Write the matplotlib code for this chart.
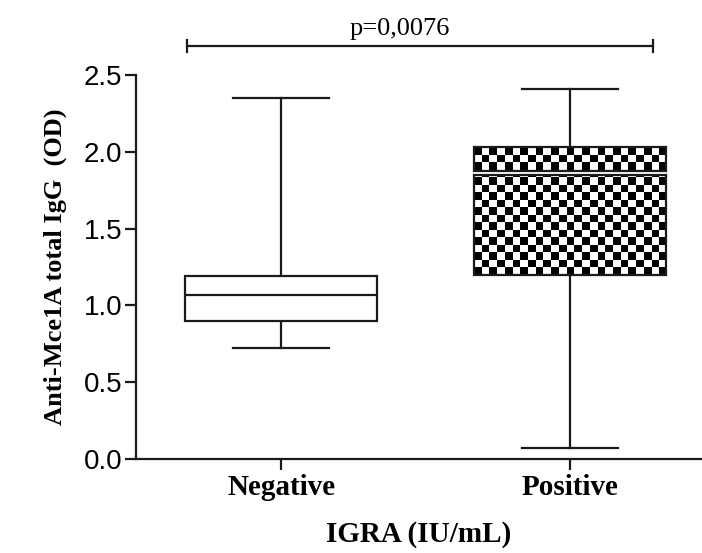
import numpy as np
import matplotlib
matplotlib.use("Agg")
import matplotlib.pyplot as plt

# datos (OD)
grupos = ["Negative", "Positive"]
q1 = [0.90, 1.20]
medianas = [1.07, 1.86]
q3 = [1.19, 2.03]
bigote_inf = [0.72, 0.07]
bigote_sup = [2.35, 2.41]
p_valor = "p=0,0076"

yticks = [0.0, 0.5, 1.0, 1.5, 2.0, 2.5]

fig = plt.figure(figsize=(7.02, 5.53), dpi=100)
ax = fig.add_axes([0.194, 0.170, 0.806, 0.694])

stats = []
for i, g in enumerate(grupos):
    stats.append({"label": g, "q1": q1[i], "med": medianas[i], "q3": q3[i],
                  "whislo": bigote_inf[i], "whishi": bigote_sup[i], "fliers": []})

pos = [1, 2]
ancho = 0.665
lw = 1.6
bp = ax.bxp(stats, positions=pos, widths=ancho, capwidths=ancho / 2,
            patch_artist=True, showfliers=False,
            boxprops=dict(linewidth=lw, edgecolor="#1a1a1a", facecolor="white", zorder=3),
            whiskerprops=dict(linewidth=lw, color="#1a1a1a"),
            capprops=dict(linewidth=lw, color="#1a1a1a"),
            medianprops=dict(linewidth=lw, color="#1a1a1a", zorder=4))

# relleno tipo tablero para "Positive"
caja = bp["boxes"][1]
caja.set_facecolor("none")
filas, cols = 17, 25
tablero = (np.indices((filas, cols)).sum(axis=0) % 2).astype(float)
x0, x1 = pos[1] - ancho / 2, pos[1] + ancho / 2
img = ax.imshow(tablero, cmap="gray", extent=[x0, x1, q1[1], q3[1]],
                aspect="auto", interpolation="nearest", zorder=2.5, vmin=0, vmax=1)
img.set_clip_path(caja)

# mediana doble (negra con linea blanca al medio)
med = bp["medians"][1]
med.set_linewidth(4.5)
ax.plot(med.get_xdata(), med.get_ydata(), color="white", lw=1.3, zorder=4.5)

ax.set_xlim(0.498, 2.457)
ax.set_ylim(0, 2.5)
ax.set_yticks(yticks)
ax.set_yticklabels([f"{v:.1f}" for v in yticks], fontsize=20, family="Liberation Sans")
ax.set_xticks(pos)
ax.set_xticklabels(grupos, fontsize=21, family="Liberation Serif", fontweight="bold")
ax.tick_params(axis="both", direction="out", length=8, width=lw, color="#1a1a1a")
ax.tick_params(axis="x", pad=3)
ax.tick_params(axis="y", pad=2)

for s in ["top", "right"]:
    ax.spines[s].set_visible(False)
for s in ["left", "bottom"]:
    ax.spines[s].set_linewidth(lw)
    ax.spines[s].set_color("#1a1a1a")

ax.set_ylabel("Anti-Mce1A total IgG  (OD)", fontsize=19, family="Liberation Serif",
              fontweight="bold", labelpad=12)
ax.set_xlabel("IGRA (IU/mL)", fontsize=21, family="Liberation Serif",
              fontweight="bold", labelpad=14)

# barra de significancia
yb = 2.69
xa, xb = 0.675, 2.287
ax.plot([xa, xb], [yb, yb], color="#1a1a1a", lw=lw, clip_on=False)
for xx in [xa, xb]:
    ax.plot([xx, xx], [yb - 0.04, yb + 0.04], color="#1a1a1a", lw=lw, clip_on=False)
ax.text((xa + xb) / 2 - 0.07, yb + 0.04, p_valor, ha="center", va="bottom",
        fontsize=19, family="Liberation Serif")

fig.savefig("out.png", dpi=100)
